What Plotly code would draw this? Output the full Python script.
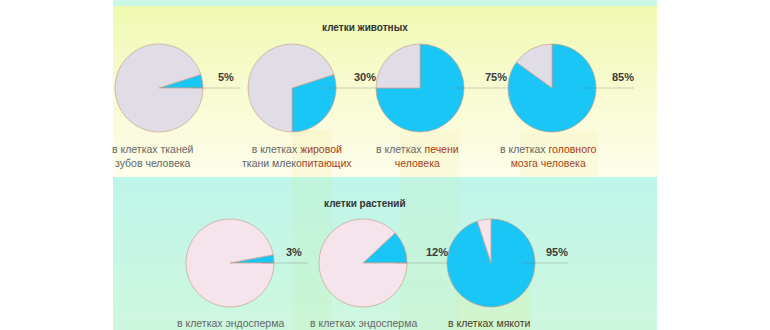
import plotly.graph_objects as go

W, H = 770, 330

# ---- data ----
animal_titles = "клетки животных"
plant_titles = "клетки растений"
animal_values = [5, 30, 75, 85]
plant_values = [3, 12, 95]
animal_captions = [
    "в клетках тканей<br>зубов человека",
    "в клетках <span style='color:#a8401a'>жировой</span><br>ткани млеко<span style='color:#a8401a'>питающих</span>",
    "в клетках <span style='color:#b0360c'>печени</span><br><span style='color:#a8401a'>человека</span>",
    "в клетках <span style='color:#b0360c'>головного</span><br><span style='color:#a04a1a'>мозга человека</span>",
]
plant_captions = [
    "в клетках эндосперма",
    "в клетках эндосперма",
    "<span style='color:#4a3a1a'>в клетках мякоти</span>",
]

# ---- style ----
animal_cx = [159, 292, 420, 552]
plant_cx = [230, 363, 491]
animal_cy, plant_cy = 88, 263
R = 44
animal_label_dx = [13, 16, 19, 14]
plant_label_dx = [10, 17, 9]
animal_caption_x = [153, 297, 417, 548]
plant_caption_x = [230, 363, 489]
animal_rot = [72, 72, 0, 0]
plant_rot = [79.2, 46.8, 0]
BLUE = "#19c6f5"
GREY_A = "#e0dde7"
GREY_P = "#f5e4ec"
EDGE = "#c9a08c"
FONT = "Liberation Sans, Arial, sans-serif"

def px(x):
    return x / W

def py(y):
    return 1 - y / H

def hexmix(c1, c2, t):
    a = [int(c1[i:i + 2], 16) for i in (1, 3, 5)]
    b = [int(c2[i:i + 2], 16) for i in (1, 3, 5)]
    return "#%02x%02x%02x" % tuple(round(a[k] + (b[k] - a[k]) * t) for k in range(3))

fig = go.Figure()
shapes = []
annotations = []

X0, X1 = 113, 657
# background gradient bands
shapes.append(dict(type="rect", xref="paper", yref="paper", x0=px(X0), x1=px(X1),
                   y0=py(6), y1=py(0), fillcolor="#cbf8e6", line_width=0, layer="below"))
stops_y = [(0, "#eff9b2"), (0.45, "#f8fbcf"), (1.0, "#fdfdea")]
N = 34
y_a, y_b = 6, 177
for i in range(N):
    t = i / (N - 1)
    for j in range(len(stops_y) - 1):
        if stops_y[j][0] <= t <= stops_y[j + 1][0]:
            tt = (t - stops_y[j][0]) / (stops_y[j + 1][0] - stops_y[j][0])
            c = hexmix(stops_y[j][1], stops_y[j + 1][1], tt)
            break
    ya = y_a + (y_b - y_a) * i / N
    yb = y_a + (y_b - y_a) * (i + 1) / N + 0.6
    shapes.append(dict(type="rect", xref="paper", yref="paper", x0=px(X0), x1=px(X1),
                       y0=py(yb), y1=py(ya), fillcolor=c, line_width=0, layer="below"))
stops_m = [(0, "#bff6ea"), (1.0, "#cef7df")]
N2 = 24
y_a, y_b = 177, 330
for i in range(N2):
    t = i / (N2 - 1)
    c = hexmix(stops_m[0][1], stops_m[1][1], t)
    ya = y_a + (y_b - y_a) * i / N2
    yb = y_a + (y_b - y_a) * (i + 1) / N2 + 0.6
    shapes.append(dict(type="rect", xref="paper", yref="paper", x0=px(X0), x1=px(X1),
                       y0=py(yb), y1=py(ya), fillcolor=c, line_width=0, layer="below"))
# subtle vertical bands
for (xa, xb, ya, yb, col, op) in [
    (292, 332, 130, 177, "#f7ec9a", 0.2),
    (400, 460, 130, 177, "#f7ee9e", 0.18),
    (520, 598, 130, 177, "#f7ee9e", 0.18),
    (292, 332, 177, 330, "#c4eeb8", 0.25),
    (400, 460, 177, 330, "#c8efbe", 0.2),
    (455, 530, 280, 330, "#d8f0b0", 0.35),
]:
    shapes.append(dict(type="rect", xref="paper", yref="paper", x0=px(xa), x1=px(xb),
                       y0=py(yb), y1=py(ya), fillcolor=col, opacity=op, line_width=0, layer="below"))


def add_group(values, cxs, cy, grey, rots, ldx, caps, capx, cap_y, title, title_y):
    for v, cx, rot, dx, cap, cxp in zip(values, cxs, rots, ldx, caps, capx):
        fig.add_trace(go.Pie(
            values=[v, 100 - v], labels=["a", "b"], sort=False, direction="clockwise",
            rotation=rot, textinfo="none", hoverinfo="skip", showlegend=False,
            marker=dict(colors=[BLUE, grey], line=dict(color=EDGE, width=0.7)),
            domain=dict(x=[px(cx - R), px(cx + R)], y=[py(cy + R), py(cy - R)]),
        ))
        lx = cx + R + dx
        shapes.append(dict(type="line", xref="paper", yref="paper",
                           x0=px(cx + R * 0.72), x1=px(lx + 24), y0=py(cy), y1=py(cy),
                           line=dict(color="rgba(120,120,120,0.45)", width=0.8), layer="above"))
        annotations.append(dict(x=px(lx), y=py(cy - 11), xref="paper", yref="paper",
                                text="<b>%d%%</b>" % v, showarrow=False, xanchor="left",
                                yanchor="middle", font=dict(family=FONT, size=11, color="#3a3a3a")))
        annotations.append(dict(x=px(cxp), y=py(cap_y), xref="paper", yref="paper",
                                text=cap, showarrow=False, xanchor="center", yanchor="middle",
                                align="center",
                                font=dict(family=FONT, size=10.5, color="#666666")))
    annotations.append(dict(x=px(365), y=py(title_y), xref="paper", yref="paper",
                            text="<b>%s</b>" % title, showarrow=False, xanchor="center",
                            yanchor="middle", font=dict(family=FONT, size=10, color="#333333")))


add_group(animal_values, animal_cx, animal_cy, GREY_A, animal_rot, animal_label_dx,
          animal_captions, animal_caption_x, 156, animal_titles, 28)
add_group(plant_values, plant_cx, plant_cy, GREY_P, plant_rot, plant_label_dx,
          plant_captions, plant_caption_x, 323, plant_titles, 203)

fig.update_layout(
    width=W, height=H, margin=dict(l=0, r=0, t=0, b=0),
    paper_bgcolor="white", plot_bgcolor="white",
    shapes=shapes, annotations=annotations, showlegend=False,
)
fig.write_html("out.html")
